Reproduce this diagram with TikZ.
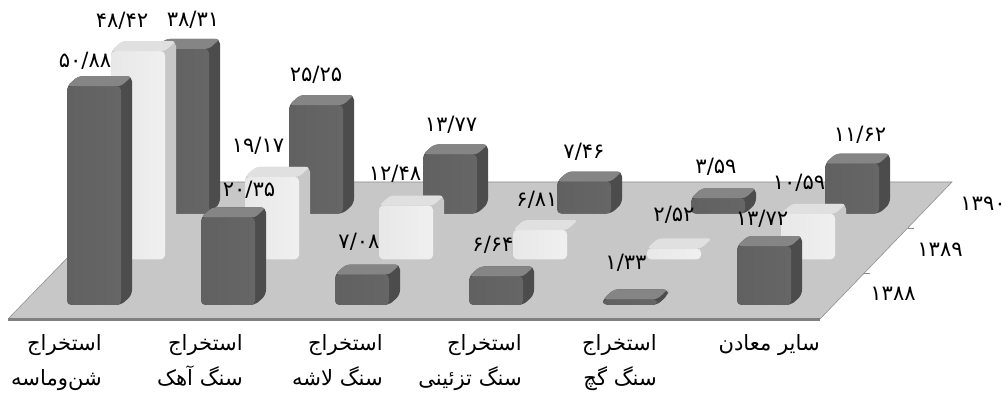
\documentclass[tikz,border=0pt]{standalone}
\usepackage{fontspec}
\newfontfamily\fa[Script=Arabic]{DejaVu Sans}
\TeXXeTstate=1
\tikzset{
  darkfront/.style={left color=black!62, middle color=black!50, right color=black!60},
  darkside/.style={fill=black!70},
  darktop/.style={fill=black!48},
  lightfront/.style={left color=black!9, middle color=white, right color=black!6},
  lightside/.style={fill=black!22},
  lighttop/.style={fill=black!12},
  val/.style={font=\fa\fontsize{15}{17}\selectfont, inner sep=0pt},
  cat/.style={font=\fa\fontsize{15}{17}\selectfont, inner sep=0pt, anchor=base east},
}
% one rounded box: group, row, value, colour set
\newcommand{\prism}[4]{%
  \pgfmathsetmacro{\px}{67+134*#1+44*#2}%
  \pgfmathsetmacro{\py}{305-45.7*#2}%
  \pgfmathsetmacro{\ph}{4.3*#3}%
  \fill[#4side, rounded corners=3.5pt] (\px,\py) -- ++(54,0) -- ++(11,-10) -- ++(0,-\ph) -- ++(-54,0) -- ++(-11,10) -- cycle;
  \path[#4front, rounded corners=3pt] (\px,\py) rectangle ++(54,-\ph);
  \fill[#4top, rounded corners=2.5pt] (\px,\py-\ph) -- ++(54,0) -- ++(11,-10) -- ++(-54,0) -- cycle;
}
\begin{document}
\begin{tikzpicture}[x=0.025cm, y=-0.025cm]
    \useasboundingbox (0,0) rectangle (1008,400);
    % floor
    \fill[black!22] (8,319) -- (820,319) -- (952,182) -- (141,182) -- cycle;
    \draw[black!45] (8,319) -- (141,182) -- (952,182) -- (820,319);
    \draw[black!50, line width=1.5pt] (8,319.5) -- (820,319.5);
    \draw[black!45] (864,273) -- +(6,0);
    \draw[black!45] (908,228) -- +(6,0);
    % 1390
    \prism{0}{2}{38.31}{dark}
    \prism{1}{2}{25.25}{dark}
    \prism{2}{2}{13.77}{dark}
    \prism{3}{2}{7.46}{dark}
    \prism{4}{2}{3.59}{dark}
    \prism{5}{2}{11.62}{dark}
    % 1389
    \prism{0}{1}{48.42}{light}
    \prism{1}{1}{19.17}{light}
    \prism{2}{1}{12.48}{light}
    \prism{3}{1}{6.81}{light}
    \prism{4}{1}{2.52}{light}
    \prism{5}{1}{10.59}{light}
    % 1388
    \prism{0}{0}{50.88}{dark}
    \prism{1}{0}{20.35}{dark}
    \prism{2}{0}{7.08}{dark}
    \prism{3}{0}{6.64}{dark}
    \prism{4}{0}{1.33}{dark}
    \prism{5}{0}{13.72}{dark}
    % values
    \node[val] (v1a) at (85,61) {۵۰/۸۸};
    \node[val] (v1b) at (122,21) {۴۸/۴۲};
    \node[val] (v1c) at (193,20) {۳۸/۳۱};
    \node[val] (v2a) at (249,190) {۲۰/۳۵};
    \node[val] (v2b) at (258,146) {۱۹/۱۷};
    \node[val] (v2c) at (316,75) {۲۵/۲۵};
    \node[val] (v3a) at (359,242) {۷/۰۸};
    \node[val] (v3b) at (395,174) {۱۲/۴۸};
    \node[val] (v3c) at (451,125) {۱۳/۷۷};
    \node[val] (v4a) at (493,245) {۶/۶۴};
    \node[val] (v4b) at (537,200) {۶/۸۱};
    \node[val] (v4c) at (584,152) {۷/۴۶};
    \node[val] (v5a) at (626,263) {۱/۳۳};
    \node[val] (v5b) at (674,215) {۲/۵۲};
    \node[val] (v5c) at (716,167) {۳/۵۹};
    \node[val] (v6a) at (762,219) {۱۳/۷۲};
    \node[val] (v6b) at (799,183) {۱۰/۵۹};
    \node[val] (v6c) at (860,135) {۱۱/۶۲};
    % years
    \node[val] (y88) at (893,294) {۱۳۸۸};
    \node[val] (y89) at (940,250) {۱۳۸۹};
    \node[val] (y90) at (983,204) {۱۳۹۰};
    % categories
    \node[cat] (g1a) at (102,351) {\beginR استخراج\endR};
    \node[cat] (g1b) at (102,386) {\beginR شن‌وماسه\endR};
    \node[cat] (g2a) at (243,351) {\beginR استخراج\endR};
    \node[cat] (g2b) at (243,386) {\beginR سنگ آهک\endR};
    \node[cat] (g3a) at (383,351) {\beginR استخراج\endR};
    \node[cat] (g3b) at (383,386) {\beginR سنگ لاشه\endR};
    \node[cat] (g4a) at (522,351) {\beginR استخراج\endR};
    \node[cat] (g4b) at (522,386) {\beginR سنگ تزئینی\endR};
    \node[cat] (g5a) at (657,351) {\beginR استخراج\endR};
    \node[cat] (g5b) at (657,386) {\beginR سنگ گچ\endR};
    \node[cat] (g6a) at (820,351) {\beginR سایر معادن\endR};
\end{tikzpicture}
\end{document}
